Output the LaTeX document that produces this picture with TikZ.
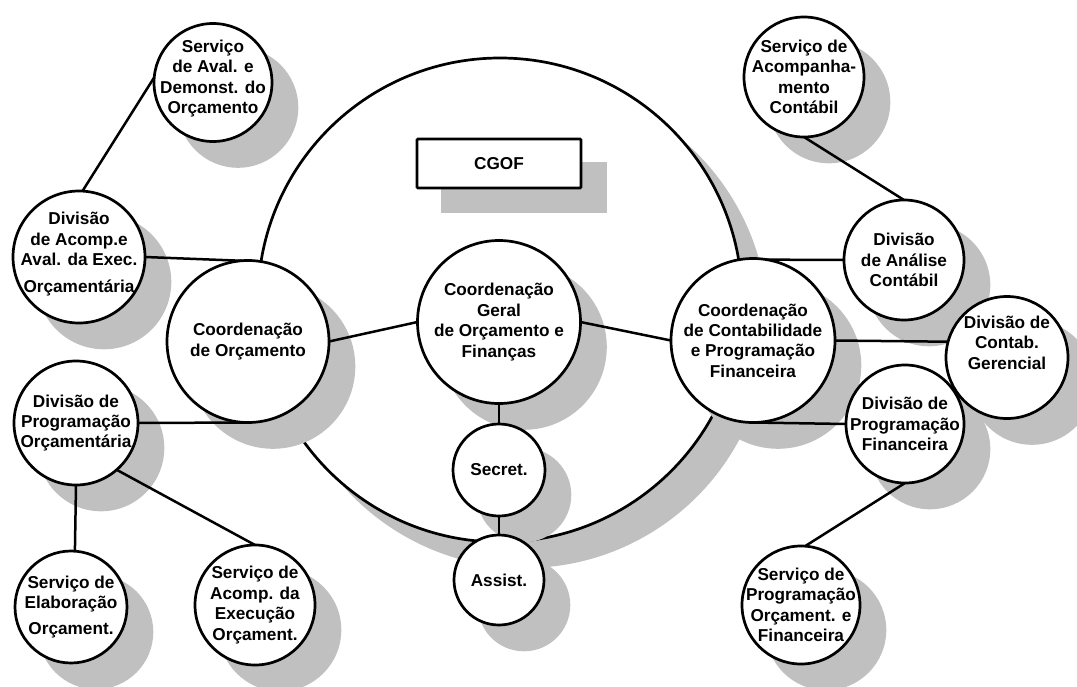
\documentclass[tikz,border=0pt]{standalone}
\usepackage{fontspec}
\setmainfont{Liberation Sans}
\usetikzlibrary{calc}
\definecolor{shadowgray}{RGB}{192,192,192}
\pgfdeclarelayer{ringshadow}
\pgfdeclarelayer{ringlayer}
\pgfdeclarelayer{shadows}
\pgfdeclarelayer{links}
\pgfsetlayers{ringshadow,ringlayer,shadows,links,main}
\begin{document}
\begin{tikzpicture}[x=1pt,y=-1pt,
  unit/.style={circle, draw, fill=white, line width=2.7pt, inner sep=0pt, outer sep=0pt, minimum size=#1},
  caption/.style={font=\bfseries\fontsize{17.2}{20.4}\selectfont, align=center, inner sep=0pt},
  txt/.style={label={[caption]center:{#1}}},
  txtup/.style 2 args={label={[caption, yshift=#1]center:{#2}}},
  link/.style={line width=2.5pt},
  shade/.style={fill=shadowgray}]
\useasboundingbox (0,0) rectangle (1077,686);

% outer ring of the CGOF
\begin{pgfonlayer}{ringlayer}
  \node[unit=484pt] (ring) at (500,300) {};
\end{pgfonlayer}
\begin{pgfonlayer}{ringshadow}
  \fill[shade] (525,325) circle (243pt);
\end{pgfonlayer}

% title box
\node[draw, fill=white, line width=2.7pt, minimum width=164pt, minimum height=49pt,
      caption, rounded corners=1pt] (cgof) at (499,163.5) {CGOF};

% central units
\node[unit=163pt, txt={Coordenação\\Geral\\de Orçamento e\\Finanças}] (cg) at (499,322) {};
\node[unit=92pt, txt={Secret.}] (sec) at (499,470) {};
\node[unit=90pt, txt={Assist.}] (as) at (499,580) {};

% budget branch
\node[unit=162pt, txt={Coordenação\\de Orçamento}] (co) at (248,341.5) {};
\node[unit=118pt, txtup={4pt}{Serviço\\de Aval. e\\Demonst. do\\Orçamento}] (sad) at (213,82.5) {};
\node[unit=132pt, txtup={3pt}{Divisão\\de Acomp.e\\Aval. da Exec.\\[6pt]Orçamentária}] (dae) at (79,257) {};
\node[unit=124pt, txt={Divisão de\\Programação\\Orçamentária}] (dpo) at (76,423) {};
\node[unit=112pt, txt={Serviço de\\Elaboração\\[6pt]Orçament.}] (se) at (71,607) {};
\node[unit=120pt, txt={Serviço de\\Acomp. da\\Execução\\Orçament.}] (sae) at (255,605) {};

% accounting and financial programming branch
\node[unit=164pt, txt={Coordenação\\de Contabilidade\\e Programação\\Financeira}] (cc) at (753,340.5) {};
\node[unit=120pt, txt={Serviço de\\Acompanha-\\mento\\Contábil}] (sac) at (804,77) {};
\node[unit=120pt, txt={Divisão\\de Análise\\Contábil}] (dan) at (904,260) {};
\node[unit=122pt, txtup={15pt}{Divisão de\\Contab.\\Gerencial}] (dcg) at (1007,357.5) {};
\node[unit=118pt, txt={Divisão de\\Programação\\Financeira}] (dpf) at (905,424) {};
\node[unit=118pt, txt={Serviço de\\Programação\\Orçament. e\\Financeira}] (spof) at (801,605) {};

% drop shadows
\begin{pgfonlayer}{shadows}
  \foreach \u in {cg,sec,as,co,sad,dae,dpo,se,sae,cc,sac,dan,dcg,dpf,spof}
    \fill[shade] let \p1=(\u.center), \p2=(\u.east) in
      (\x1+25pt,\y1-25pt) circle ({\x2-\x1+1.3pt});
  \fill[shade] ([shift={(25pt,-24pt)}]cgof.south west) rectangle ([shift={(25pt,-24pt)}]cgof.north east);
\end{pgfonlayer}

% connectors
\begin{pgfonlayer}{links}
  \draw[link] (co.east) -- (cg.west);
  \draw[link] (cg.east) -- (cc.west);
  \draw[link] (cg.south) -- (sec.north);
  \draw[link] (sec.south) -- (as.north);
  \draw[link] (sad.175) -- (dae.87);
  \draw[link] (dae.east) -- (co.81);
  \draw[link] (dpo.east) -- (co.south);
  \draw[link] (dpo.south) -- (se.86);
  \draw[link] (dpo.-49) -- (sae.north);
  \draw[link] (sac.south) -- (dan.north);
  \draw[link] (cc.99) -- (dan.west);
  \draw[link] (cc.east) -- (dcg.165);
  \draw[link] (cc.south) -- (dpf.west);
  \draw[link] (dpf.south) -- (spof.86);
\end{pgfonlayer}
\end{tikzpicture}
\end{document}
